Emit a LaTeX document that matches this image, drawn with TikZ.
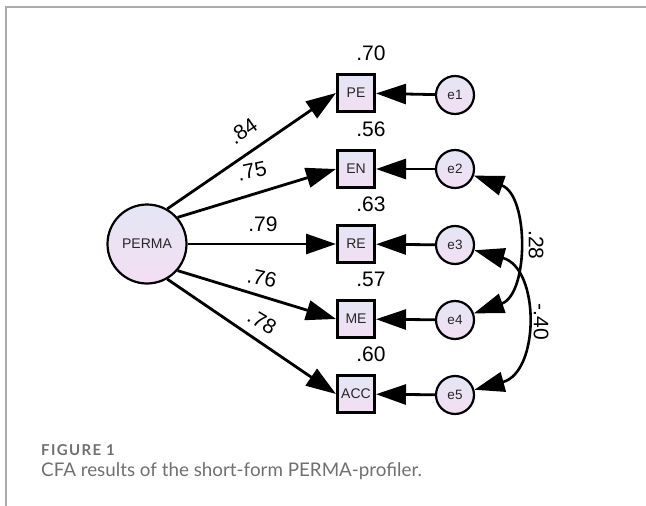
\documentclass[tikz,border=0pt]{standalone}
\usepackage{fontspec}
\setmainfont{Liberation Sans}
\newfontfamily\capfont{Lato}
\newfontfamily\capheadfont[LetterSpace=9]{Lato}
\usetikzlibrary{arrows.meta}

\definecolor{framegray}{RGB}{172,172,172}
\definecolor{capgray}{RGB}{112,112,112}
\definecolor{fillA}{RGB}{228,230,245}
\definecolor{fillB}{RGB}{243,222,243}

\tikzset{
  obsbox/.style={draw, line width=2.6pt, minimum size=37.4pt, inner sep=0pt,
    top color=fillA, bottom color=fillB, text=black!85,
    font=\fontsize{14}{14}\selectfont},
  latent/.style={circle, draw, line width=2.2pt, minimum size=79pt, inner sep=0pt,
    top color=fillA, bottom color=fillB, text=black!85,
    font=\fontsize{14}{14}\selectfont},
  errc/.style={circle, draw, line width=2.2pt, minimum size=38pt, inner sep=0pt,
    top color=fillA, bottom color=fillB, text=black!85,
    font=\fontsize{13.5}{13.5}\selectfont},
  loading/.style={line width=2.8pt, -{Triangle[length=30pt,width=20pt]}},
  covar/.style={line width=2.6pt,
    {Triangle[length=30pt,width=20pt]}-{Triangle[length=30pt,width=20pt]}},
  coef/.style={inner sep=0pt, font=\fontsize{21}{21}\selectfont},
}

\begin{document}
\begin{tikzpicture}[x=1pt, y=-1pt]
\useasboundingbox (0,0) rectangle (646,506);

% frame edges
\draw[framegray, line width=2pt] (6,506) -- (6,7) -- (646,7);

% latent factor
\node[latent] (perma) at (147,244) {PERMA};

% observed indicators
\node[obsbox] (pe)  at (356,93)  {PE};
\node[obsbox] (en)  at (356,169) {EN};
\node[obsbox] (re)  at (356,244) {RE};
\node[obsbox] (me)  at (356,319) {ME};
\node[obsbox] (acc) at (356,394) {ACC};

% error terms
\node[errc] (e1) at (455,95)  {e1};
\node[errc] (e2) at (455,169) {e2};
\node[errc] (e3) at (455,245) {e3};
\node[errc] (e4) at (455,320) {e4};
\node[errc] (e5) at (455,395) {e5};

% factor loadings
\draw[loading] (perma.60)  -- (pe.west);
\draw[loading] (perma.41)  -- (en.west);
\draw[loading] (perma.0)   -- (re.west);
\draw[loading] (perma.-41) -- (me.west);
\draw[loading] (perma.-60) -- (acc.west);

% error paths
\draw[loading] (e1) -- (pe);
\draw[loading] (e2) -- (en);
\draw[loading] (e3) -- (re);
\draw[loading] (e4) -- (me);
\draw[loading] (e5) -- (acc);

% error covariances
\draw[covar] (e2) .. controls (529,195) and (529,294) .. (e4);
\draw[covar] (e3) .. controls (540,268) and (540,372) .. (e5);

% loading estimates
\node[coef, rotate=35]  (l1) at (243,131) {.84};
\node[coef, rotate=12]  (l2) at (252,171) {.75};
\node[coef]             (l3) at (263,224) {.79};
\node[coef, rotate=-12] (l4) at (262,278) {.76};
\node[coef, rotate=-31] (l5) at (262,322) {.78};

% squared multiple correlations
\node[coef] (r1) at (371,53)  {.70};
\node[coef] (r2) at (371,129) {.56};
\node[coef] (r3) at (371,204) {.63};
\node[coef] (r4) at (371,279) {.57};
\node[coef] (r5) at (371,354) {.60};

% covariance estimates
\node[coef, rotate=-90] (c1) at (536,245) {.28};
\node[coef, rotate=-90] (c2) at (541,322) {-.40};

% caption
\node[anchor=base west, inner sep=0pt, text=capgray,
  font=\capheadfont\bfseries\fontsize{15}{15}\selectfont] (fig) at (41,455) {FIGURE 1};
\node[anchor=base west, inner sep=0pt, text=capgray,
  font=\capfont\fontsize{18.8}{18.8}\selectfont] (cap) at (41,476)
  {CFA results of the short-form PERMA-profiler.};
\end{tikzpicture}
\end{document}
